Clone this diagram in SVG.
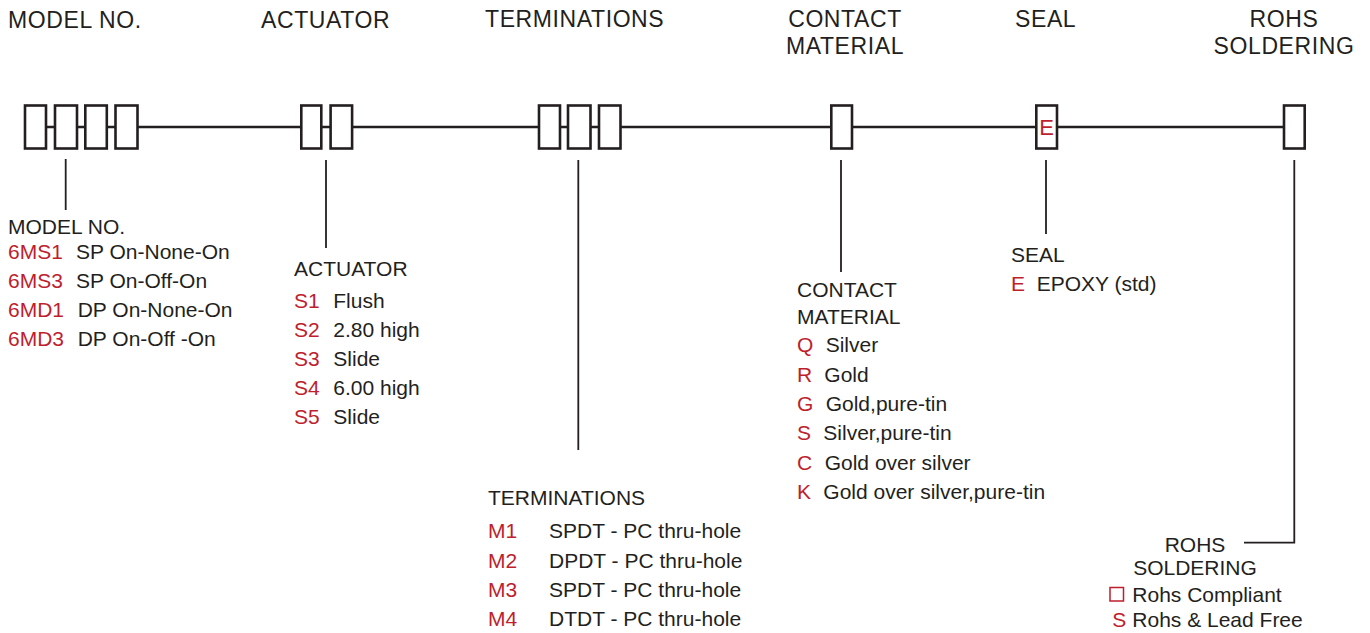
<svg xmlns="http://www.w3.org/2000/svg" width="1370" height="633" viewBox="0 0 1370 633">
<style>
text{font-family:"Liberation Sans",Arial,sans-serif;fill:#231f20}
.h{font-size:23px;letter-spacing:0.6px}
.b{font-size:21px}
.r{fill:#be1e2d}
.box{fill:#fff;stroke:#231f20;stroke-width:2.6}
.ln{fill:none;stroke:#231f20;stroke-width:2.6}
.ld{fill:none;stroke:#231f20;stroke-width:1.8}
</style>
<rect width="1370" height="633" fill="#fff"/>
<g id="headers">
<text class="h" x="8" y="28">MODEL NO.</text>
<text class="h" x="261" y="28">ACTUATOR</text>
<text class="h" x="485" y="27">TERMINATIONS</text>
<text class="h" x="845" y="27" text-anchor="middle">CONTACT</text>
<text class="h" x="845" y="54" text-anchor="middle">MATERIAL</text>
<text class="h" x="1015" y="27">SEAL</text>
<text class="h" x="1284" y="27" text-anchor="middle">ROHS</text>
<text class="h" x="1284" y="54" text-anchor="middle">SOLDERING</text>
</g>
<g id="connectors">
<line class="ln" x1="46" y1="127" x2="1284" y2="127"/>
<line class="ld" x1="65.7" y1="159" x2="65.7" y2="210"/>
<line class="ld" x1="326" y1="160" x2="326" y2="248"/>
<line class="ld" x1="578.3" y1="160" x2="578.3" y2="450"/>
<line class="ld" x1="841" y1="160" x2="841" y2="272"/>
<line class="ld" x1="1046" y1="160" x2="1046" y2="234"/>
<polyline class="ld" points="1294.3,160 1294.3,542.7 1244,542.7"/>
</g>
<g id="model-boxes">
<rect class="box" x="25" y="105.5" width="21" height="43"/>
<rect class="box" x="55" y="105.5" width="22" height="43"/>
<rect class="box" x="85.3" y="105.5" width="21.5" height="43"/>
<rect class="box" x="115.5" y="105.5" width="22" height="43"/>
</g>
<g id="actuator-boxes">
<rect class="box" x="301.3" y="105.5" width="20" height="43"/>
<rect class="box" x="330.6" y="105.5" width="21.5" height="43"/>
</g>
<g id="termination-boxes">
<rect class="box" x="539" y="105.5" width="21" height="43"/>
<rect class="box" x="568" y="105.5" width="22.5" height="43"/>
<rect class="box" x="599" y="105.5" width="21.5" height="43"/>
</g>
<g id="contact-box">
<rect class="box" x="831.3" y="105.5" width="20.7" height="43"/>
</g>
<g id="seal-box">
<rect class="box" x="1036.3" y="105.5" width="20.7" height="43"/>
<text class="r" x="1046.7" y="134.5" text-anchor="middle" font-size="22">E</text>
</g>
<g id="rohs-box">
<rect class="box" x="1284" y="105.5" width="20.7" height="43"/>
</g>
<g id="model-list">
<text class="b" x="8" y="234">MODEL NO.</text>
<text class="b r" x="8" y="258.5">6MS1</text><text class="b" x="76" y="258.5">SP On-None-On</text>
<text class="b r" x="8" y="287.5">6MS3</text><text class="b" x="76" y="287.5">SP On-Off-On</text>
<text class="b r" x="8" y="316.5">6MD1</text><text class="b" x="77.7" y="316.5">DP On-None-On</text>
<text class="b r" x="8" y="345.5">6MD3</text><text class="b" x="77.7" y="345.5">DP On-Off -On</text>
</g>
<g id="actuator-list">
<text class="b" x="294" y="276">ACTUATOR</text>
<text class="b r" x="294" y="307.7">S1</text><text class="b" x="333.3" y="307.7">Flush</text>
<text class="b r" x="294" y="336.8">S2</text><text class="b" x="333.3" y="336.8">2.80 high</text>
<text class="b r" x="294" y="366">S3</text><text class="b" x="333.3" y="366">Slide</text>
<text class="b r" x="294" y="395.2">S4</text><text class="b" x="333.3" y="395.2">6.00 high</text>
<text class="b r" x="294" y="424.4">S5</text><text class="b" x="333.3" y="424.4">Slide</text>
</g>
<g id="terminations-list">
<text class="b" x="488" y="505">TERMINATIONS</text>
<text class="b r" x="488" y="538.3">M1</text><text class="b" x="549" y="538.3">SPDT - PC thru-hole</text>
<text class="b r" x="488" y="567.5">M2</text><text class="b" x="549" y="567.5">DPDT - PC thru-hole</text>
<text class="b r" x="488" y="596.7">M3</text><text class="b" x="549" y="596.7">SPDT - PC thru-hole</text>
<text class="b r" x="488" y="626">M4</text><text class="b" x="549" y="626">DTDT - PC thru-hole</text>
</g>
<g id="contact-list">
<text class="b" x="797" y="297">CONTACT</text>
<text class="b" x="797" y="324.3">MATERIAL</text>
<text class="b r" x="797" y="352.3">Q</text><text class="b" x="825.7" y="352.3">Silver</text>
<text class="b r" x="797" y="381.6">R</text><text class="b" x="824.3" y="381.6">Gold</text>
<text class="b r" x="797" y="410.9">G</text><text class="b" x="825.7" y="410.9">Gold,pure-tin</text>
<text class="b r" x="797" y="440.2">S</text><text class="b" x="823.3" y="440.2">Silver,pure-tin</text>
<text class="b r" x="797" y="469.5">C</text><text class="b" x="824.7" y="469.5">Gold over silver</text>
<text class="b r" x="797" y="498.8">K</text><text class="b" x="823.3" y="498.8">Gold over silver,pure-tin</text>
</g>
<g id="seal-list">
<text class="b" x="1011" y="261.7">SEAL</text>
<text class="b r" x="1011" y="290.7">E</text><text class="b" x="1036.7" y="290.7">EPOXY (std)</text>
</g>
<g id="rohs-list">
<text class="b" x="1195" y="551.7" text-anchor="middle">ROHS</text>
<text class="b" x="1195" y="575" text-anchor="middle">SOLDERING</text>
<rect x="1110" y="587.5" width="13.5" height="13.5" fill="none" stroke="#be1e2d" stroke-width="1.5"/>
<text class="b" x="1132.3" y="601.7">Rohs Compliant</text>
<text class="b r" x="1112.3" y="627.3">S</text><text class="b" x="1132.3" y="627.3">Rohs &amp; Lead Free</text>
</g>
</svg>
